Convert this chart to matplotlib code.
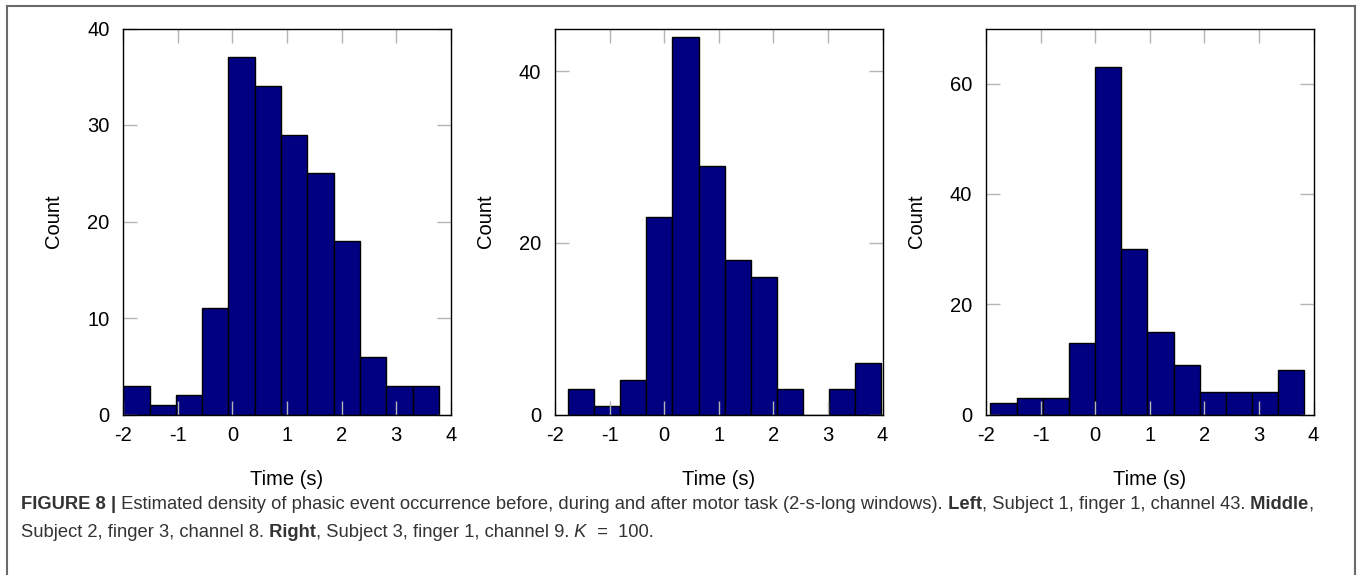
import matplotlib
matplotlib.use("Agg")
import matplotlib.pyplot as plt
from matplotlib.lines import Line2D
from matplotlib.text import Annotation
import numpy as np

plt.rcParams['font.family'] = ['Liberation Sans', 'DejaVu Sans']

# counts per bin
left_counts = [3, 1, 2, 11, 37, 34, 29, 25, 18, 6, 3, 3]
middle_counts = [3, 1, 4, 23, 44, 29, 18, 16, 3, 0, 3, 6]
right_counts = [2, 3, 3, 13, 63, 30, 15, 9, 4, 4, 4, 8]

# first and last bin edge (s)
left_range = (-2.0, 3.78)
middle_range = (-1.756, 3.97)
right_range = (-1.92, 3.834)

y_limits = [40, 45, 70]
y_ticks = [[0, 10, 20, 30, 40], [0, 20, 40], [0, 20, 40, 60]]
x_ticks = [-2, -1, 0, 1, 2, 3, 4]

fig = plt.figure(figsize=(13.57, 5.75), dpi=100)

panels = [(left_counts, left_range), (middle_counts, middle_range), (right_counts, right_range)]
lefts = [123.3, 555.0, 986.0]
W, H = 1357.0, 575.0

for i, (counts, rng) in enumerate(panels):
    ax = fig.add_axes([lefts[i] / W, 1 - 414.5 / H, 327.5 / W, 386.0 / H])
    edges = np.linspace(rng[0], rng[1], len(counts) + 1)
    ax.bar(edges[:-1], counts, width=np.diff(edges), align='edge',
           color='#000080', edgecolor='black', linewidth=1.0)
    ax.set_xlim(-2, 4)
    ax.set_ylim(0, y_limits[i])
    ax.set_xticks(x_ticks)
    ax.set_xticklabels([str(t) for t in x_ticks])
    ax.set_yticks(y_ticks[i])
    ax.tick_params(direction='in', length=10, width=1, color='#b5b5b5',
                   top=True, right=True, labelsize=14.5, pad=10)
    ax.tick_params(axis='x', pad=8)
    for s in ax.spines.values():
        s.set_linewidth(1.0)
        s.set_color('black')
    ax.set_xlabel('Time (s)', fontsize=14.5, labelpad=18)
    ax.set_ylabel('Count', fontsize=14.5, labelpad=17)

# outer frame of the figure panel
frame_kw = dict(color='#6a6a6a', linewidth=1.5, transform=fig.transFigure)
x0, x1, ytop = 7 / W, 1355 / W, 1 - 6 / H
fig.add_artist(Line2D([x0, x1], [ytop, ytop], **frame_kw))
fig.add_artist(Line2D([x0, x0], [ytop, -0.05], **frame_kw))
fig.add_artist(Line2D([x1, x1], [ytop, -0.05], **frame_kw))

cap_kw = dict(fontsize=13.2, color='#333333')


def caption_line(parts, x, y):
    txt, style = parts[0]
    prev = fig.text(x, y, txt, va='bottom', ha='left',
                    fontweight='bold' if style == 'b' else 'normal', **cap_kw)
    for txt, style in parts[1:]:
        ann = Annotation(txt, xy=(1, 0), xycoords=prev, va='bottom', ha='left',
                         fontweight='bold' if style == 'b' else 'normal',
                         fontstyle='italic' if style == 'i' else 'normal', **cap_kw)
        fig.add_artist(ann)
        prev = ann


line1 = [("FIGURE 8 |", 'b'),
         (" Estimated density of phasic event occurrence before, during and after motor task (2-s-long windows).", 'n'),
         (" Left", 'b'),
         (", Subject 1, finger 1, channel 43.", 'n'),
         (" Middle", 'b'),
         (",", 'n')]
line2 = [("Subject 2, finger 3, channel 8.", 'n'),
         (" Right", 'b'),
         (", Subject 3, finger 1, channel 9.", 'n'),
         (" K", 'i'),
         ("  =  100.", 'n')]

caption_line(line1, 21 / W, 1 - 513 / H)
caption_line(line2, 21 / W, 1 - 541 / H)

fig.savefig('out.png', dpi=100)
